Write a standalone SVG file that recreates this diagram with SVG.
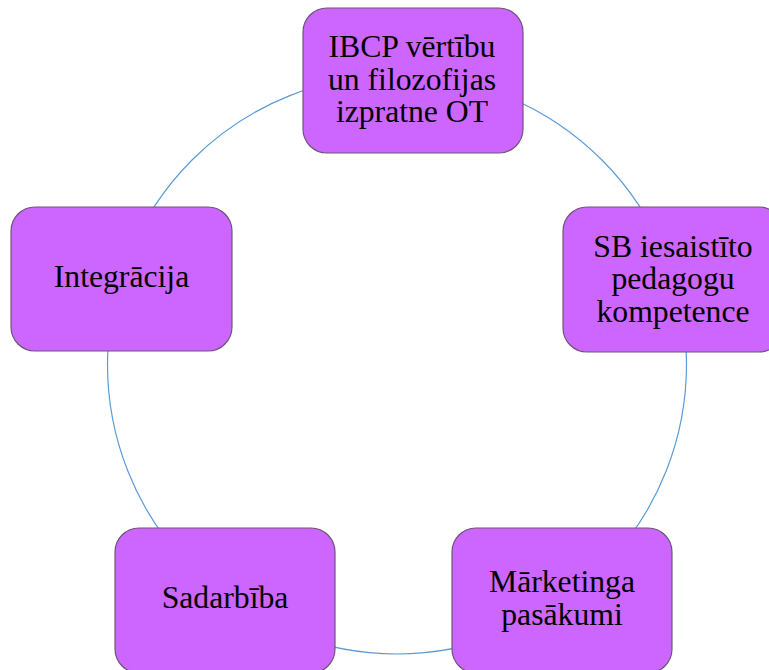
<svg xmlns="http://www.w3.org/2000/svg" width="769" height="670" viewBox="0 0 769 670">
<style>
.node rect{fill:#CC66FF;stroke:#6E5578;stroke-width:1.2}
.node text{font-family:"Liberation Serif","Times New Roman",serif;font-size:31.7px;fill:#000;text-anchor:middle}
.conn{fill:none;stroke:#5B9BD5;stroke-width:1.2}
</style>
<rect width="769" height="670" fill="#fff"/>
<g id="connectors">
<circle class="conn" cx="397" cy="364.5" r="289.5"/>
</g>
<g id="node-ibcp" class="node">
<rect x="303" y="8" width="220" height="145" rx="24"/>
<text x="412" y="57">IBCP vērtību</text>
<text x="412" y="90">un filozofijas</text>
<text x="412" y="122">izpratne OT</text>
</g>
<g id="node-sb" class="node">
<rect x="563" y="207" width="220" height="145" rx="24"/>
<text x="673" y="257">SB iesaistīto</text>
<text x="673" y="289">pedagogu</text>
<text x="673" y="322">kompetence</text>
</g>
<g id="node-marketing" class="node">
<rect x="452" y="528" width="220" height="145" rx="24"/>
<text x="562" y="592">Mārketinga</text>
<text x="562" y="625">pasākumi</text>
</g>
<g id="node-sadarbiba" class="node">
<rect x="115" y="528" width="220" height="145" rx="24"/>
<text x="225" y="608">Sadarbība</text>
</g>
<g id="node-integracija" class="node">
<rect x="11" y="207" width="221" height="144" rx="24"/>
<text x="121.5" y="287">Integrācija</text>
</g>
</svg>
